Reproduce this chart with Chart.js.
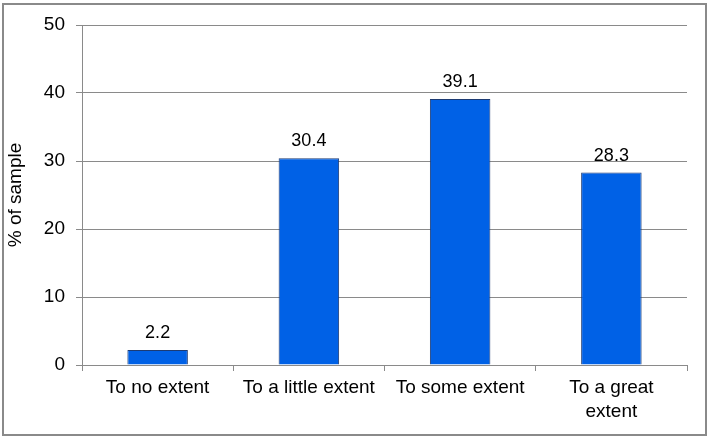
<!DOCTYPE html>
<html><head><meta charset="utf-8">
<script src="https://cdn.jsdelivr.net/npm/chart.js@4"></script>
<style>html,body{margin:0;padding:0;background:#fff}#w{width:709px;height:440px}</style>
</head><body><div id="w"><canvas id="c" width="709" height="440"></canvas></div>
<script>
const categories = ["To no extent", "To a little extent", "To some extent", ["To a great", "extent"]];
const values = [2.2, 30.4, 39.1, 28.3];
const yTicks = [0, 10, 20, 30, 40, 50];

const FONT = "'Liberation Sans', Arial, sans-serif";
const borderPlugin = {
  id: 'frame',
  afterDraw(chart) {
    const ctx = chart.ctx;
    ctx.save();
    ctx.strokeStyle = '#8a8a8a';
    ctx.lineWidth = 2;
    ctx.strokeRect(3, 4, 703, 431);
    ctx.restore();
  }
};
const labelPlugin = {
  id: 'vals',
  afterDatasetsDraw(chart) {
    const ctx = chart.ctx;
    const meta = chart.getDatasetMeta(0);
    ctx.save();
    ctx.fillStyle = '#000';
    ctx.font = '18px ' + FONT;
    ctx.textAlign = 'center';
    ctx.textBaseline = 'alphabetic';
    meta.data.forEach((bar, i) => {
      ctx.fillText(values[i].toFixed(1), bar.x, bar.y - 12);
    });
    ctx.restore();
  }
};

new Chart(document.getElementById('c'), {
  type: 'bar',
  data: {
    labels: categories,
    datasets: [{
      data: values,
      backgroundColor: '#0061e6',
      borderColor: '#1d3b73',
      borderWidth: 1,
      categoryPercentage: 0.8,
      barPercentage: 0.5
    }]
  },
  options: {
    responsive: false,
    animation: false,
    events: [],
    layout: { padding: { top: 25, right: 22, left: 0, bottom: 0 } },
    plugins: { legend: { display: false }, tooltip: { enabled: false } },
    scales: {
      x: {
        offset: true,
        grid: { drawOnChartArea: false, color: '#8a8a8a', tickLength: 6, offset: true },
        border: { color: '#8a8a8a', width: 1 },
        ticks: { color: '#000', font: { family: FONT, size: 19, lineHeight: 1.25 }, padding: 5, maxRotation: 0, autoSkip: false },
        afterFit(s) { s.height = 75; }
      },
      y: {
        min: 0, max: 50,
        afterBuildTicks(s) { s.ticks = yTicks.map(v => ({ value: v })); },
        grid: { color: '#8a8a8a', tickLength: 6 },
        border: { color: '#8a8a8a', width: 1 },
        ticks: { color: '#000', font: { family: FONT, size: 19 }, padding: 11 },
        title: { display: true, text: '% of sample', color: '#000', font: { family: FONT, size: 19 }, padding: { top: 4, bottom: 4 } },
        afterFit(s) { s.width = 82; }
      }
    }
  },
  plugins: [borderPlugin, labelPlugin]
});
</script>
</body></html>
